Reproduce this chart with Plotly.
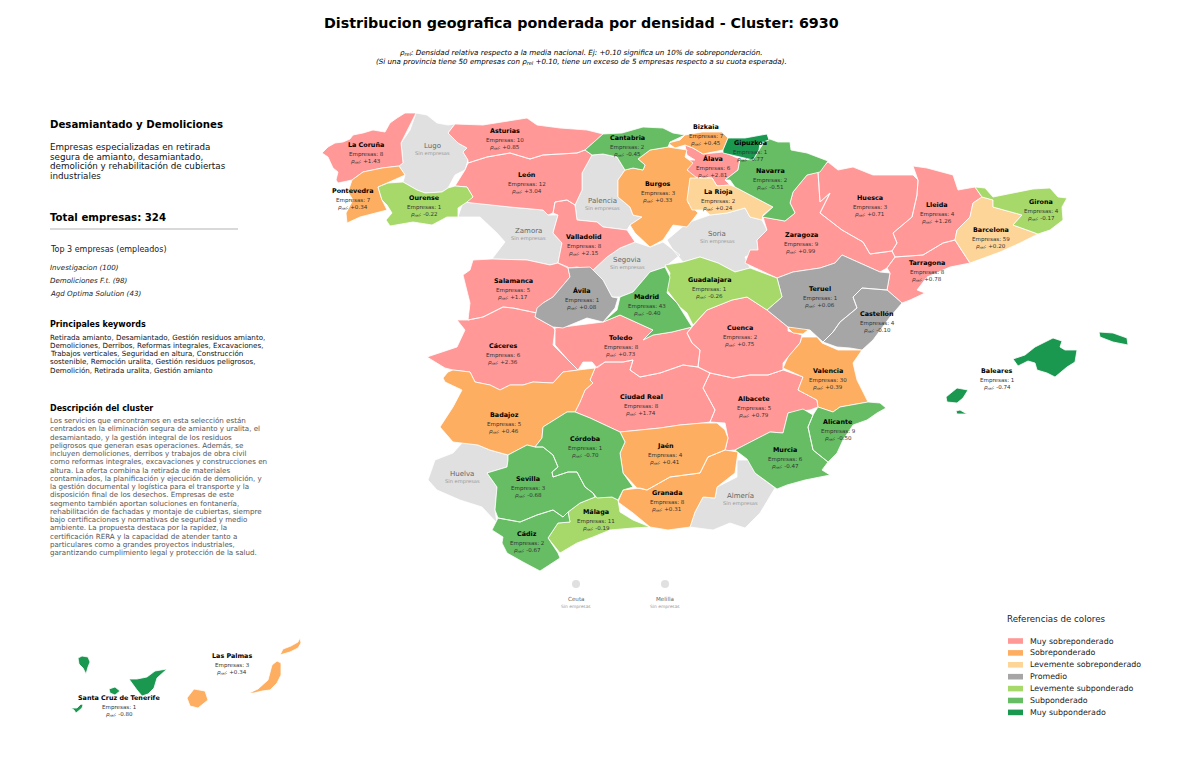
import plotly.graph_objects as go

# ---------- text ----------
TITLE = "Distribucion geografica ponderada por densidad - Cluster: 6930"
SUB1 = "<i>ρ<sub>rel</sub>: Densidad relativa respecto a la media nacional. Ej: +0.10 significa un 10% de sobreponderación.</i>"
SUB2 = "<i>(Si una provincia tiene 50 empresas con ρ<sub>rel</sub> +0.10, tiene un exceso de 5 empresas respecto a su cuota esperada).</i>"
DESC_LINES = ["Empresas especializadas en retirada", "segura de amianto, desamiantado,",
              "demolición y rehabilitación de cubiertas", "industriales"]
TOP3 = ["Investigacion (100)", "Demoliciones F.t. (98)", "Agd Optima Solution (43)"]
KEYWORDS = ["Retirada amianto, Desamiantado, Gestión residuos amianto,",
            "Demoliciones, Derribos, Reformas integrales, Excavaciones,",
            "Trabajos verticales, Seguridad en altura, Construcción",
            "sostenible, Remoción uralita, Gestión residuos peligrosos,",
            "Demolición, Retirada uralita, Gestión amianto"]
CLUSTER = ["Los servicios que encontramos en esta selección están",
           "centrados en la eliminación segura de amianto y uralita, el",
           "desamiantado, y la gestión integral de los residuos",
           "peligrosos que generan esas operaciones. Además, se",
           "incluyen demoliciones, derribos y trabajos de obra civil",
           "como reformas integrales, excavaciones y construcciones en",
           "altura. La oferta combina la retirada de materiales",
           "contaminados, la planificación y ejecución de demolición, y",
           "la gestión documental y logística para el transporte y la",
           "disposición final de los desechos. Empresas de este",
           "segmento también aportan soluciones en fontanería,",
           "rehabilitación de fachadas y montaje de cubiertas, siempre",
           "bajo certificaciones y normativas de seguridad y medio",
           "ambiente. La propuesta destaca por la rapidez, la",
           "certificación RERA y la capacidad de atender tanto a",
           "particulares como a grandes proyectos industriales,",
           "garantizando cumplimiento legal y protección de la salud."]

# ---------- categories ----------
CATEGORIES = ["Muy sobreponderado", "Sobreponderado", "Levemente sobreponderado", "Promedio",
              "Levemente subponderado", "Subponderado", "Muy subponderado"]
COLORS = ["#ff9896", "#fdae61", "#fed598", "#a6a6a6", "#a6d96a", "#66bd63", "#1a9850"]
NO_DATA = "#e0e0e0"

# ---------- province table: name, companies, rho, category index, label x, label y ----------
P = [
 ("La Coruña", 8, 1.43, 0, 366, 145), ("Lugo", None, None, None, 432, 146), ("Pontevedra", 7, 0.34, 1, 353, 191),
 ("Ourense", 1, -0.22, 4, 424, 198), ("Asturias", 10, 0.85, 0, 505, 131), ("León", 12, 3.04, 0, 527, 175),
 ("Cantabria", 2, -0.45, 5, 627, 138), ("Palencia", None, None, None, 602, 201), ("Burgos", 3, 0.33, 1, 658, 184),
 ("Bizkaia", 7, 0.45, 1, 706, 127), ("Gipuzkoa", 1, -0.77, 6, 750, 143), ("Álava", 6, 2.81, 0, 713, 159),
 ("La Rioja", 2, 0.24, 2, 718, 192), ("Navarra", 2, -0.51, 5, 770, 171), ("Huesca", 3, 0.71, 0, 870, 198),
 ("Lleida", 4, 1.26, 0, 937, 205), ("Girona", 4, -0.17, 4, 1041, 202), ("Barcelona", 59, 0.20, 2, 991, 230),
 ("Tarragona", 8, 0.78, 0, 927, 263), ("Zaragoza", 9, 0.99, 0, 801, 235), ("Teruel", 1, 0.06, 3, 820, 289),
 ("Castellón", 4, -0.10, 3, 877, 314), ("Soria", None, None, None, 717, 234), ("Guadalajara", 1, -0.26, 4, 709, 280),
 ("Madrid", 43, -0.40, 5, 647, 297), ("Segovia", None, None, None, 627, 260), ("Valladolid", 8, 2.15, 0, 584, 237),
 ("Zamora", None, None, None, 528, 231), ("Salamanca", 5, 1.17, 0, 513, 281), ("Ávila", 1, 0.08, 3, 582, 291),
 ("Cáceres", 6, 2.36, 0, 503, 346), ("Badajoz", 5, 0.46, 1, 504, 415), ("Toledo", 8, 0.73, 0, 621, 338),
 ("Ciudad Real", 8, 1.74, 0, 641, 397), ("Cuenca", 2, 0.75, 0, 740, 328), ("Valencia", 30, 0.39, 1, 828, 371),
 ("Albacete", 5, 0.79, 0, 754, 399), ("Murcia", 6, -0.47, 5, 785, 450), ("Alicante", 9, -0.50, 5, 838, 422),
 ("Almería", None, None, None, 740, 496), ("Granada", 8, 0.31, 1, 667, 493), ("Jaén", 4, 0.41, 1, 665, 446),
 ("Córdoba", 1, -0.70, 5, 585, 439), ("Sevilla", 3, -0.68, 5, 528, 479), ("Huelva", None, None, None, 462, 474),
 ("Cádiz", 2, -0.67, 5, 527, 534), ("Málaga", 11, -0.19, 4, 596, 512), ("Baleares", 1, -0.74, 6, 997, 371),
 ("Las Palmas", 3, 0.34, 1, 232, 656), ("Santa Cruz de Tenerife", 1, -0.80, 6, 119, 698),
]
CEUTA_MELILLA = [("Ceuta", 576, 584), ("Melilla", 665, 584)]

# ---------- outlines ----------
O = {
"La Coruña": [[(416,113),(401,143),(403,163),(399,166),(382,168),(363,172),(352,180),(338,183),(336,180),(338,172),(333,168),(330,162),(328,157),(322,153),(328,147),(335,143),(343,142),(350,139),(353,135),(363,133),(373,130),(385,132),(390,123),(397,118),(405,113)]],
"Pontevedra": [[(352,180),(363,172),(382,168),(399,166),(405,175),(388,183),(378,187),(382,200),(387,210),(360,217),(347,223),(346,213),(353,200),(348,192)]],
"Lugo": [[(416,113),(427,115),(437,123),(448,125),(455,124),(448,133),(458,143),(467,148),(463,152),(468,160),(465,170),(455,175),(448,188),(442,192),(425,193),(417,190),(403,182),(405,175),(399,166),(403,163),(401,143),(410,130)]],
"Ourense": [[(378,187),(388,183),(403,182),(417,190),(425,193),(442,192),(448,188),(455,186),(467,187),(473,197),(467,202),(458,208),(458,217),(447,217),(432,225),(413,222),(390,226),(386,220),(392,213),(387,205),(382,200)]],
"Asturias": [[(448,133),(455,124),(483,125),(507,121),(527,118),(537,125),(560,128),(587,130),(603,134),(585,150),(577,153),(543,155),(530,159),(510,153),(487,157),(468,163),(468,160),(463,152),(467,148),(458,143)]],
"León": [[(468,163),(487,157),(510,153),(530,159),(543,155),(577,153),(585,150),(592,155),(582,173),(582,190),(575,205),(567,200),(555,202),(553,213),(548,215),(543,210),(510,207),(477,203),(463,202),(473,197),(467,187),(455,186),(465,170)]],
"Cantabria": [[(603,134),(622,133),(643,127),(663,128),(673,133),(685,135),(670,142),(668,147),(650,150),(638,159),(645,165),(643,170),(633,168),(625,170),(617,157),(603,154),(592,155),(585,150)]],
"Palencia": [[(592,155),(603,154),(617,157),(625,170),(618,180),(618,197),(630,207),(633,215),(642,217),(630,225),(627,230),(603,227),(597,222),(577,220),(575,205),(582,190),(582,173)]],
"Burgos": [[(638,159),(650,150),(668,147),(687,150),(685,157),(693,163),(687,170),(697,178),(690,180),(688,203),(698,213),(687,227),(673,225),(663,240),(650,247),(635,233),(630,225),(642,217),(633,215),(630,207),(618,197),(618,180),(625,170),(633,168),(643,170),(645,165)]],
"Bizkaia": [[(668,143),(680,140),(685,135),(702,132),(722,132),(728,138),(723,150),(703,154),(693,148),(685,145),(675,148)]],
"Gipuzkoa": [[(728,138),(745,138),(767,134),(769,140),(760,143),(759,150),(753,160),(740,157),(723,153),(723,150)]],
"Álava": [[(685,145),(693,148),(703,154),(723,152),(740,159),(738,170),(725,180),(730,185),(717,186),(712,178),(690,177),(687,168),(678,163),(682,160),(695,160),(687,155)]],
"La Rioja": [[(690,178),(712,178),(717,186),(730,185),(735,187),(750,195),(773,207),(763,215),(762,220),(750,217),(745,208),(727,213),(710,215),(705,210),(692,210),(687,200)]],
"Navarra": [[(740,159),(753,160),(759,150),(767,138),(778,142),(790,142),(791,150),(807,153),(828,161),(820,172),(807,175),(793,192),(790,203),(795,213),(785,221),(762,217),(773,207),(750,195),(735,187),(730,180),(725,180),(738,170)]],
"Huesca": [[(828,162),(838,170),(853,167),(873,175),(893,175),(913,175),(918,180),(917,195),(912,217),(893,233),(897,243),(892,251),(870,254),(863,242),(842,230),(820,213),(830,193),(820,202),(818,172)]],
"Lleida": [[(913,166),(927,168),(953,175),(958,190),(975,187),(982,197),(973,203),(970,217),(957,230),(955,240),(943,243),(923,255),(895,257),(892,251),(897,243),(893,233),(912,217),(917,195),(918,180)]],
"Girona": [[(975,187),(985,188),(993,197),(1013,193),(1033,189),(1050,188),(1058,197),(1067,198),(1062,207),(1063,220),(1050,230),(1038,234),(1013,225),(1022,215),(993,207),(993,200),(982,197)]],
"Barcelona": [[(982,197),(993,200),(993,207),(1022,215),(1013,225),(1038,234),(1020,243),(1000,252),(970,263),(960,248),(955,240),(957,230),(970,217),(973,203)]],
"Tarragona": [[(895,257),(923,255),(943,243),(955,240),(960,248),(970,263),(950,267),(927,277),(917,290),(925,293),(910,300),(902,303),(887,290),(890,273),(887,268)]],
"Zaragoza": [[(820,213),(842,230),(863,242),(870,254),(892,251),(895,257),(887,268),(880,272),(860,263),(842,255),(835,263),(820,268),(793,272),(777,278),(745,263),(750,250),(758,250),(757,240),(767,230),(763,217),(785,221),(795,213),(790,203),(793,192),(807,175),(818,172),(820,202),(830,193)]],
"Teruel": [[(777,278),(793,272),(820,268),(835,263),(842,255),(860,263),(880,272),(890,273),(887,290),(862,288),(853,297),(857,308),(840,322),(833,332),(823,342),(810,330),(788,327),(767,310),(782,297)]],
"Castellón": [[(887,290),(902,303),(890,317),(873,340),(862,350),(850,348),(837,347),(823,342),(833,332),(840,322),(857,308),(853,297),(862,288)]],
"Soria": [[(667,240),(687,223),(710,215),(727,213),(745,208),(750,217),(762,220),(767,230),(757,240),(758,250),(745,257),(750,268),(735,272),(718,263),(700,257),(683,262),(673,250)]],
"Guadalajara": [[(665,265),(683,262),(700,257),(718,263),(735,272),(750,268),(777,278),(782,297),(767,310),(747,297),(732,300),(707,310),(693,325),(687,313),(680,307),(667,290),(670,273)]],
"Madrid": [[(665,267),(670,277),(667,293),(677,303),(692,327),(672,332),(653,335),(643,340),(653,330),(620,315),(603,322),(617,310),(620,297),(633,292),(650,272)]],
"Segovia": [[(635,242),(650,247),(663,242),(680,255),(665,267),(650,272),(633,292),(620,297),(612,297),(603,280),(593,270),(607,257),(620,248)]],
"Valladolid": [[(553,213),(555,202),(567,200),(575,205),(577,220),(597,222),(603,227),(627,230),(635,242),(620,248),(607,257),(593,270),(577,267),(568,268),(558,263),(562,243),(553,233),(558,215)]],
"Zamora": [[(458,217),(463,202),(477,203),(510,207),(543,210),(548,215),(558,215),(553,233),(562,243),(558,263),(550,265),(527,260),(492,259),(505,242),(497,233),(480,217)]],
"Salamanca": [[(473,260),(492,259),(527,260),(550,265),(558,263),(568,267),(570,277),(553,297),(543,303),(537,313),(513,308),(503,307),(483,317),(468,320),(470,303),(463,275),(470,270)]],
"Ávila": [[(568,268),(590,267),(603,280),(612,297),(618,298),(615,308),(603,322),(587,318),(563,328),(553,327),(535,317),(537,308),(543,303),(553,297),(570,277)]],
"Cáceres": [[(457,320),(468,320),(483,317),(503,307),(513,308),(537,313),(535,317),(553,327),(555,330),(553,345),(568,360),(578,370),(563,372),(553,383),(533,382),(523,385),(510,385),(500,390),(490,385),(475,382),(470,372),(453,370),(445,368),(427,357),(457,347),(465,330)]],
"Badajoz": [[(453,370),(470,372),(475,382),(490,385),(500,390),(510,385),(523,385),(533,382),(553,383),(563,372),(578,370),(595,368),(590,380),(593,383),(585,390),(580,402),(575,412),(567,412),(543,427),(542,438),(535,447),(527,445),(508,455),(490,450),(478,445),(463,443),(453,442),(440,427),(453,407),(462,390),(445,382),(443,378),(448,372)]],
"Toledo": [[(555,328),(603,322),(620,315),(653,330),(643,340),(653,335),(672,332),(692,327),(687,333),(692,343),(700,350),(698,367),(683,365),(660,373),(640,377),(630,370),(633,360),(623,362),(605,362),(597,368),(592,362),(583,362),(578,370),(568,360),(555,345)]],
"Ciudad Real": [[(595,368),(605,362),(623,362),(633,360),(630,370),(640,377),(660,373),(683,365),(698,367),(710,373),(703,388),(715,410),(710,422),(703,423),(680,425),(660,428),(620,432),(590,418),(575,412),(580,402),(585,390),(593,383),(590,380)]],
"Cuenca": [[(692,327),(707,310),(732,300),(747,297),(767,310),(788,327),(788,331),(802,335),(800,343),(783,363),(783,370),(768,375),(750,375),(733,378),(710,373),(698,367),(700,350),(692,343),(687,333)]],
"Valencia": [[(802,337),(817,337),(822,343),(838,350),(862,350),(853,363),(857,380),(868,402),(840,407),(833,412),(818,407),(817,400),(798,390),(803,377),(783,368),(788,357),(800,343)],
             [(788,328),(797,323),(808,330),(803,334),(793,333)]],
"Albacete": [[(710,373),(733,378),(750,375),(768,375),(783,370),(803,377),(798,390),(817,400),(818,407),(810,410),(788,413),(783,433),(770,432),(735,450),(725,451),(728,438),(725,423),(710,422),(715,410),(703,388)]],
"Murcia": [[(735,450),(770,432),(783,433),(788,413),(803,409),(813,415),(808,427),(813,450),(828,462),(822,470),(830,475),(805,480),(787,485),(777,489),(755,473),(747,459)]],
"Alicante": [[(813,415),(818,407),(833,412),(840,407),(868,402),(880,403),(886,408),(877,413),(867,420),(853,425),(843,440),(837,453),(828,462),(813,450),(808,427)]],
"Almería": [[(737,460),(753,460),(755,473),(775,488),(760,513),(745,528),(730,523),(713,530),(690,527),(695,512),(703,497),(715,498),(717,487),(737,477)]],
"Granada": [[(738,452),(735,473),(717,487),(715,498),(703,497),(695,512),(690,527),(668,530),(650,527),(633,513),(618,502),(623,490),(640,488),(647,490),(670,477),(700,473),(708,457),(725,450)]],
"Jaén": [[(620,432),(660,428),(680,425),(703,423),(717,423),(725,430),(728,438),(725,450),(708,457),(700,473),(670,477),(647,490),(637,488),(623,473),(620,453),(625,442)]],
"Córdoba": [[(543,427),(567,412),(575,412),(590,418),(620,432),(625,442),(620,453),(623,473),(633,487),(623,490),(618,500),(612,497),(597,498),(593,493),(585,487),(577,472),(568,472),(553,477),(552,472),(558,467),(553,455),(543,447),(535,447),(542,438)]],
"Sevilla": [[(508,455),(527,445),(535,447),(543,447),(553,455),(558,467),(552,472),(553,477),(568,472),(577,472),(585,487),(593,493),(595,497),(580,503),(568,512),(563,517),(553,510),(537,515),(520,522),(498,518),(495,510),(497,487),(487,473),(507,467),(508,460)]],
"Huelva": [[(463,442),(478,445),(490,450),(508,455),(508,460),(507,467),(487,473),(497,487),(495,510),(497,523),(482,507),(460,500),(437,490),(428,480),(435,460),(453,453)]],
"Cádiz": [[(498,518),(520,522),(537,515),(553,510),(563,517),(568,512),(570,522),(558,523),(548,538),(558,553),(560,558),(547,567),(540,571),(523,562),(507,553),(502,543),(503,537),(492,530)]],
"Málaga": [[(568,512),(580,503),(595,497),(612,497),(618,500),(620,512),(633,520),(650,527),(633,528),(610,530),(593,537),(577,543),(560,553),(548,538),(558,523),(570,522)]],
"Baleares": [[(1013,359),(1025,355),(1035,347),(1050,340),(1053,338),(1062,341),(1060,347),(1065,350),(1077,350),(1075,362),(1067,367),(1055,377),(1047,373),(1037,370),(1035,363),(1028,361),(1018,366)],
             [(1099,332),(1113,333),(1127,338),(1128,345),(1113,342),(1100,337)],
             [(946,397),(957,388),(968,390),(963,398),(957,403),(947,402)],
             [(956,411),(960,410),(967,414),(957,414)]],
"Santa Cruz de Tenerife": [[(78,658),(82,656),(88,657),(90,662),(88,667),(86,674),(83,668),(79,664)],
             [(109,689),(115,687),(120,691),(115,695),(110,693)],
             [(71,708),(77,708),(81,704),(83,705),(82,708),(78,712),(76,713),(74,710)],
             [(129,679),(137,679),(147,677),(155,671),(167,669),(157,678),(154,688),(148,694),(142,696),(137,690)]],
"Las Palmas": [[(187,698),(194,689),(205,691),(208,700),(198,708),(190,706)],
             [(249,693),(258,689),(268,680),(272,665),(277,661),(281,663),(281,675),(277,683),(270,690),(262,691),(254,693)],
             [(280,655),(283,649),(291,646),(298,642),(300,638),(301,643),(298,648),(290,652),(283,654)]],
}

FONT = "DejaVu Sans"
fig = go.Figure()


def outline_xy(names):
    xs, ys = [], []
    for n in names:
        for ring in O[n]:
            xs += [p[0] for p in ring] + [ring[0][0], None]
            ys += [p[1] for p in ring] + [ring[0][1], None]
    return xs, ys


groups = [(None, NO_DATA)] + list(enumerate(COLORS))
for cat, col in groups:
    xs, ys = outline_xy([p[0] for p in P if p[3] == cat])
    fig.add_trace(go.Scatter(x=xs, y=ys, mode="lines", fill="toself", fillcolor=col,
                             line=dict(color="white", width=0.8), hoverinfo="skip", showlegend=False))

fig.add_trace(go.Scatter(x=[c[1] for c in CEUTA_MELILLA], y=[c[2] for c in CEUTA_MELILLA], mode="markers",
                         marker=dict(size=8, color=NO_DATA), hoverinfo="skip", showlegend=False))


def txt(x, y, s, size, color="#000000", anchor="center", bold=False):
    fig.add_annotation(x=x, y=y, xref="x", yref="y", text=f"<b>{s}</b>" if bold else s, showarrow=False,
                       xanchor=anchor, yanchor="middle", align=anchor,
                       borderpad=0, borderwidth=0,
                       font=dict(family=FONT, size=size, color=color))


for name, n, rho, cat, x, y in P:
    if n is None:
        txt(x, y, name, 7, "#666666")
        txt(x, y + 7.5, "Sin empresas", 5.15, "#999999")
    else:
        txt(x, y, name, 6.4, bold=True)
        txt(x, y + 9.5, f"Empresas: {n}", 5.55, "#333333")
        txt(x, y + 16, f"<i>ρ<sub>rel</sub></i>: {rho:+.2f}", 5.55, "#333333")
for name, x, y in CEUTA_MELILLA:
    txt(x, y + 15, name, 5.6, "#666666")
    txt(x, y + 22, "Sin empresas", 4.4, "#999999")

# header
txt(581, 23, TITLE, 14.3, bold=True)
txt(581, 52, SUB1, 7.13)
txt(581.5, 61, SUB2, 7.13)

# left panel
LEFT = 50
txt(LEFT, 124, "Desamiantado y Demoliciones", 10.2, anchor="left", bold=True)
for i, s in enumerate(DESC_LINES):
    txt(LEFT, 147 + i * 9.7, s, 8.75, "#111111", anchor="left")
txt(LEFT, 217, "Total empresas: 324", 10.2, anchor="left", bold=True)
fig.add_shape(type="line", x0=LEFT, x1=238, y0=229, y1=229, line=dict(color="#cccccc", width=1.4))
txt(LEFT, 249, "Top 3 empresas (empleados)", 8, "#222222", anchor="left")
for i, s in enumerate(TOP3):
    txt(LEFT, 267 + i * 13.3, f"<i>{s}</i>", 7.1, "#222222", anchor="left")
txt(LEFT, 324, "Principales keywords", 8, anchor="left", bold=True)
for i, s in enumerate(KEYWORDS):
    txt(LEFT, 337 + i * 8.3, s, 7.12, "#111111", anchor="left")
txt(LEFT, 408, "Descripción del cluster", 8, anchor="left", bold=True)
for i, s in enumerate(CLUSTER):
    txt(LEFT, 420.5 + i * 8.25, s, 7.12, "#555555", anchor="left")

# colour key
txt(1007, 619, "Referencias de colores", 8.7, "#222222", anchor="left")
for i, (c, col) in enumerate(zip(CATEGORIES, COLORS)):
    y = 641 + i * 11.9
    fig.add_shape(type="rect", x0=1008, x1=1023, y0=y - 2.8, y1=y + 2.8, fillcolor=col, line_width=0)
    txt(1030, y, c, 7.9, "#222222", anchor="left")

fig.update_layout(width=1200, height=761, margin=dict(l=0, r=0, t=0, b=0), showlegend=False,
                  paper_bgcolor="white", plot_bgcolor="white",
                  xaxis=dict(range=[0, 1200], visible=False, fixedrange=True),
                  yaxis=dict(range=[761, 0], visible=False, fixedrange=True))
fig.write_html("out.html", config={"displayModeBar": False},
               post_script="document.body.style.margin='0';document.body.style.overflow='hidden';")
